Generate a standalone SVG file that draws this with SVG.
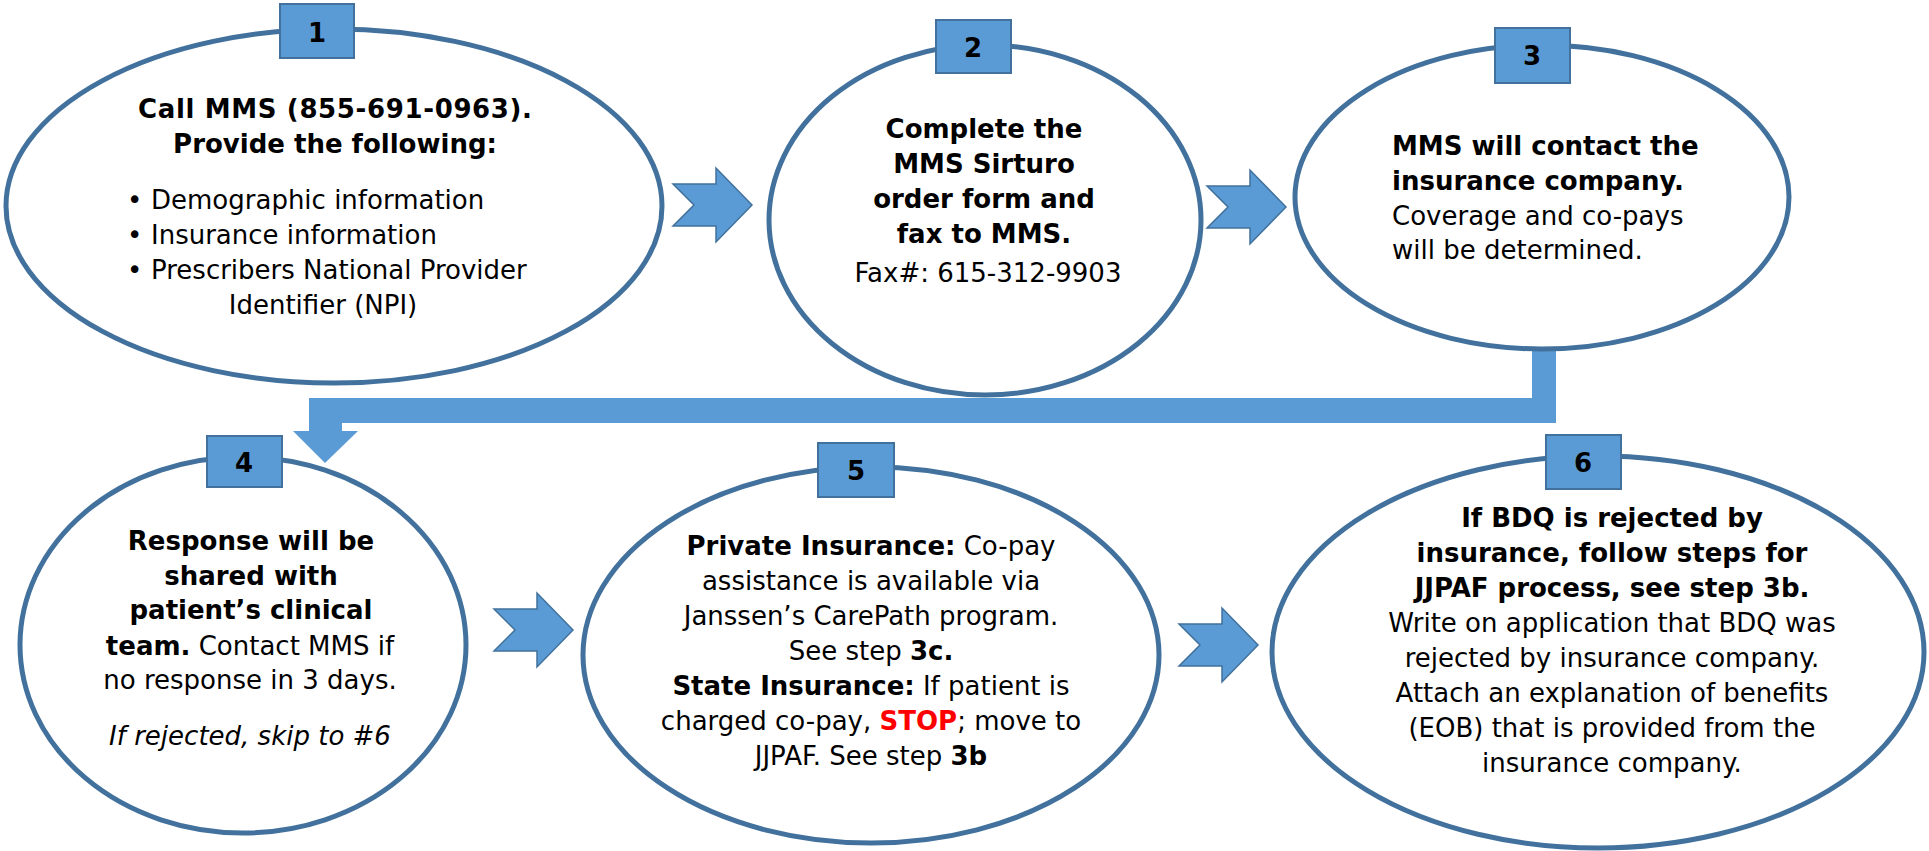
<svg xmlns="http://www.w3.org/2000/svg" xmlns:xlink="http://www.w3.org/1999/xlink" width="1929" height="851" viewBox="0 0 1929 851">
<defs>
<style>
.oval{fill:#fff;stroke:#41719C;stroke-width:5}
.box{fill:#5B9BD5;stroke:#41719C;stroke-width:2}
.num{font-family:"DejaVu Sans",Verdana,sans-serif;font-weight:bold;font-size:26px;text-anchor:middle;fill:#000}
.t{font-family:"DejaVu Sans",Verdana,sans-serif;font-size:26px;fill:#000}
.c{text-anchor:middle}
.b{font-weight:bold}
.i{font-style:italic}
.red{fill:#FF0000;font-weight:bold}
.arr{fill:#5B9BD5;stroke:#41719C;stroke-width:1.5}
.bar{fill:#5B9BD5}
</style>
<path id="chev" d="M0,-21 H43 V-37 L79,0 L43,37 V21 H0 L21,0 Z"/>
</defs>
<rect width="1929" height="851" fill="#fff"/>
<g id="connectors">
<path class="bar" d="M1532,340 H1556 V423 H342 V431 H358 L325,463 L293,431 H309 V398 H1532 Z"/>
<use xlink:href="#chev" class="arr" transform="translate(673,205)"/>
<use xlink:href="#chev" class="arr" transform="translate(1207,207)"/>
<use xlink:href="#chev" class="arr" transform="translate(494,630)"/>
<use xlink:href="#chev" class="arr" transform="translate(1179,645)"/>
</g>
<g id="node1">
<ellipse class="oval" cx="334" cy="206" rx="328" ry="177"/>
<rect class="box" x="280" y="4" width="74" height="54"/>
<text class="num" x="317" y="42">1</text>
<text class="t c b" x="335" y="118" textLength="394" lengthAdjust="spacing">Call MMS (855-691-0963).</text>
<text class="t c b" x="335" y="153">Provide the following:</text>
<text class="t" x="127" y="209">•</text><text class="t" x="151" y="209">Demographic information</text>
<text class="t" x="127" y="244">•</text><text class="t" x="151" y="244">Insurance information</text>
<text class="t" x="127" y="279">•</text><text class="t" x="151" y="279">Prescribers National Provider</text>
<text class="t c" x="323" y="314">Identifier (NPI)</text>
</g>
<g id="node2">
<ellipse class="oval" cx="985" cy="220" rx="216" ry="175"/>
<rect class="box" x="936" y="20" width="75" height="53"/>
<text class="num" x="973" y="57">2</text>
<text class="t c b" x="984" y="138">Complete the</text>
<text class="t c b" x="984" y="173">MMS Sirturo</text>
<text class="t c b" x="984" y="208">order form and</text>
<text class="t c b" x="984" y="243">fax to MMS.</text>
<text class="t c" x="988" y="282">Fax#: 615-312-9903</text>
</g>
<g id="node3">
<ellipse class="oval" cx="1542" cy="197" rx="247" ry="152"/>
<rect class="box" x="1495" y="28" width="75" height="55"/>
<text class="num" x="1532" y="65">3</text>
<text class="t b" x="1392" y="155">MMS will contact the</text>
<text class="t b" x="1392" y="190">insurance company.</text>
<text class="t" x="1392" y="225">Coverage and co-pays</text>
<text class="t" x="1392" y="259">will be determined.</text>
</g>
<g id="node4">
<ellipse class="oval" cx="243" cy="645" rx="223" ry="188"/>
<rect class="box" x="207" y="436" width="75" height="51"/>
<text class="num" x="244" y="472">4</text>
<text class="t c b" x="251" y="550">Response will be</text>
<text class="t c b" x="251" y="585">shared with</text>
<text class="t c b" x="251" y="619">patient’s clinical</text>
<text class="t c" x="250" y="655"><tspan class="b">team.</tspan> Contact MMS if</text>
<text class="t c" x="250" y="689">no response in 3 days.</text>
<text class="t c i" x="250" y="745">If rejected, skip to #6</text>
</g>
<g id="node5">
<ellipse class="oval" cx="871" cy="655" rx="288" ry="188"/>
<rect class="box" x="818" y="443" width="76" height="54"/>
<text class="num" x="856" y="480">5</text>
<text class="t c" x="871" y="555"><tspan class="b">Private Insurance:</tspan> Co-pay</text>
<text class="t c" x="871" y="590">assistance is available via</text>
<text class="t c" x="871" y="625">Janssen’s CarePath program.</text>
<text class="t c" x="871" y="660">See step <tspan class="b">3c.</tspan></text>
<text class="t c" x="871" y="695"><tspan class="b">State Insurance:</tspan> If patient is</text>
<text class="t c" x="871" y="730">charged co-pay, <tspan class="red">STOP</tspan>; move to</text>
<text class="t c" x="871" y="765">JJPAF. See step <tspan class="b">3b</tspan></text>
</g>
<g id="node6">
<ellipse class="oval" cx="1598" cy="652" rx="326" ry="196"/>
<rect class="box" x="1546" y="435" width="75" height="54"/>
<text class="num" x="1583" y="472">6</text>
<text class="t c b" x="1612" y="527">If BDQ is rejected by</text>
<text class="t c b" x="1612" y="562">insurance, follow steps for</text>
<text class="t c b" x="1612" y="597">JJPAF process, see step 3b.</text>
<text class="t c" x="1612" y="632">Write on application that BDQ was</text>
<text class="t c" x="1612" y="667">rejected by insurance company.</text>
<text class="t c" x="1612" y="702">Attach an explanation of benefits</text>
<text class="t c" x="1612" y="737">(EOB) that is provided from the</text>
<text class="t c" x="1612" y="772">insurance company.</text>
</g>
</svg>
